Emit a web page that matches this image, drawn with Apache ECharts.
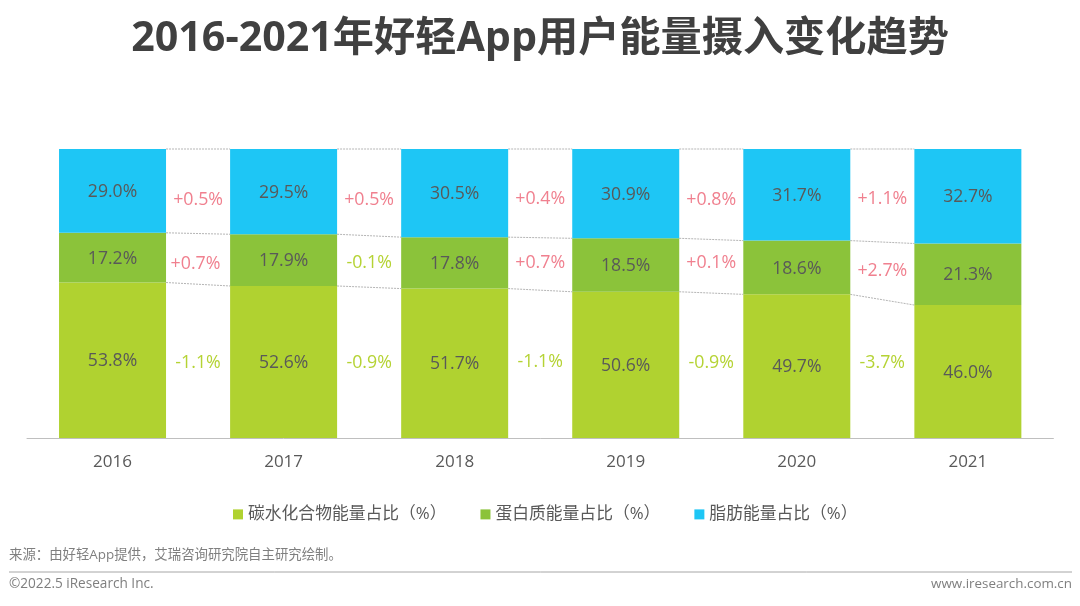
<!DOCTYPE html>
<html><head><meta charset="utf-8">
<style>html,body{margin:0;padding:0;background:#fff}#c{width:1080px;height:606px}</style>
<script src="https://cdn.jsdelivr.net/npm/echarts@6/dist/echarts.min.js"></script>
</head><body><div id="c"></div>
<script>
const years = ['2016','2017','2018','2019','2020','2021'];
const carbs = [53.8,52.6,51.7,50.6,49.7,46.0];
const protein = [17.2,17.9,17.8,18.5,18.6,21.3];
const fat = [29.0,29.5,30.5,30.9,31.7,32.7];
const fatChange = ['+0.5%','+0.5%','+0.4%','+0.8%','+1.1%'];
const proteinChange = ['+0.7%','-0.1%','+0.7%','+0.1%','+2.7%'];
const carbsChange = ['-1.1%','-0.9%','-1.1%','-0.9%','-3.7%'];
const seriesNames = ['碳水化合物能量占比（%）','蛋白质能量占比（%）','脂肪能量占比（%）'];

const FONT = '"Open Sans","Noto Sans CJK SC",sans-serif';
const UP = '#F0808F', DOWN = '#B5D334', TEXT = '#595959';
const GRID = {left:27, top:149, width:1026.4, height:289};
const BAR_W = 107;
const valueAtPx = py => (GRID.top + GRID.height - py) / GRID.height * 100;

const levels = [];
years.slice(0,-1).forEach((_,i)=>{
  const a = carbs[i], b = carbs[i+1];
  const c = a + protein[i], d = b + protein[i+1];
  levels.push([i,a,b],[i,c,d],[i,c+fat[i],d+fat[i+1]]);
});

function deltaPoints(texts, pys, dxs){
  return texts.map((t,i)=>({
    value:[i+1+(dxs?dxs[i]:0), valueAtPx(pys[i])],
    label:{formatter:t, color: t[0]==='+' ? UP : DOWN}
  }));
}
const bar = (name,data,color)=>({
  name,type:'bar',stack:'t',data,barWidth:BAR_W,z:3,
  itemStyle:{color},
  label:{show:true,position:'inside',formatter:p=>p.value.toFixed(1)+'%',color:TEXT,fontSize:17.6,fontFamily:FONT,offset:[0,1]}
});
const deltaSeries = (texts,pys,dxs)=>({
  type:'scatter',xAxisIndex:1,yAxisIndex:0,symbolSize:0,silent:true,z:5,
  itemStyle:{opacity:1},
  data:deltaPoints(texts,pys,dxs),
  label:{show:true,position:'inside',fontSize:17.8,fontFamily:FONT,opacity:1}
});

const chart = echarts.init(document.getElementById('c'),null,{renderer:'canvas'});
chart.setOption({
  animation:false,
  backgroundColor:'#fff',
  textStyle:{fontFamily:FONT},
  title:[
    {text:'2016-2021年好轻App用户能量摄入变化趋势',left:'center',top:14,textStyle:{fontFamily:FONT,fontSize:41.2,fontWeight:'bold',color:'#404040'}},
    {text:'来源：由好轻App提供，艾瑞咨询研究院自主研究绘制。',left:4,top:543,textStyle:{fontFamily:FONT,fontSize:13.4,fontWeight:'normal',color:'#7f7f7f'}},
    {text:'©2022.5 iResearch Inc.',left:4,top:572,textStyle:{fontFamily:FONT,fontSize:13.6,fontWeight:'normal',color:'#7f7f7f'}},
    {text:'www.iresearch.com.cn',right:3,top:572,textStyle:{fontFamily:FONT,fontSize:13.4,fontWeight:'normal',color:'#7f7f7f'}}
  ],
  legend:{
    data:seriesNames,left:228,top:501,icon:'rect',itemWidth:10,itemHeight:10,itemGap:34,
    textStyle:{fontFamily:FONT,fontSize:16.8,color:TEXT}
  },
  grid:GRID,
  xAxis:[
    {type:'category',data:years,axisLine:{lineStyle:{color:'#bfbfbf'}},axisTick:{show:false},
     axisLabel:{fontSize:17,color:TEXT,fontFamily:FONT,margin:16}},
    {type:'value',min:0,max:6,show:false}
  ],
  yAxis:{type:'value',min:0,max:100,show:false},
  graphic:[{type:'line',shape:{x1:9,y1:572,x2:1072,y2:572},style:{stroke:'#a6a6a6',lineWidth:1}}],
  series:[
    bar(seriesNames[0],carbs,'#B0D230'),
    bar(seriesNames[1],protein,'#8BC33A'),
    bar(seriesNames[2],fat,'#1EC6F5'),
    {type:'custom',silent:true,z:2,data:levels,encode:{x:0,y:[1,2]},
     renderItem:(params,api)=>{
       const i=api.value(0);
       const p0=api.coord([i,api.value(1)]), p1=api.coord([i+1,api.value(2)]);
       return {type:'line',shape:{x1:p0[0]+BAR_W/2,y1:p0[1],x2:p1[0]-BAR_W/2,y2:p1[1]},
         style:{stroke:'#b5b5b5',lineWidth:1,lineDash:[2,1]}};
     }},
    deltaSeries(fatChange,[200,200,199,200,199]),
    deltaSeries(proteinChange,[264,263,263,263,271],[-0.015,0,0,0,0]),
    deltaSeries(carbsChange,[363,363,362,363,363])
  ]
});
</script></body></html>
